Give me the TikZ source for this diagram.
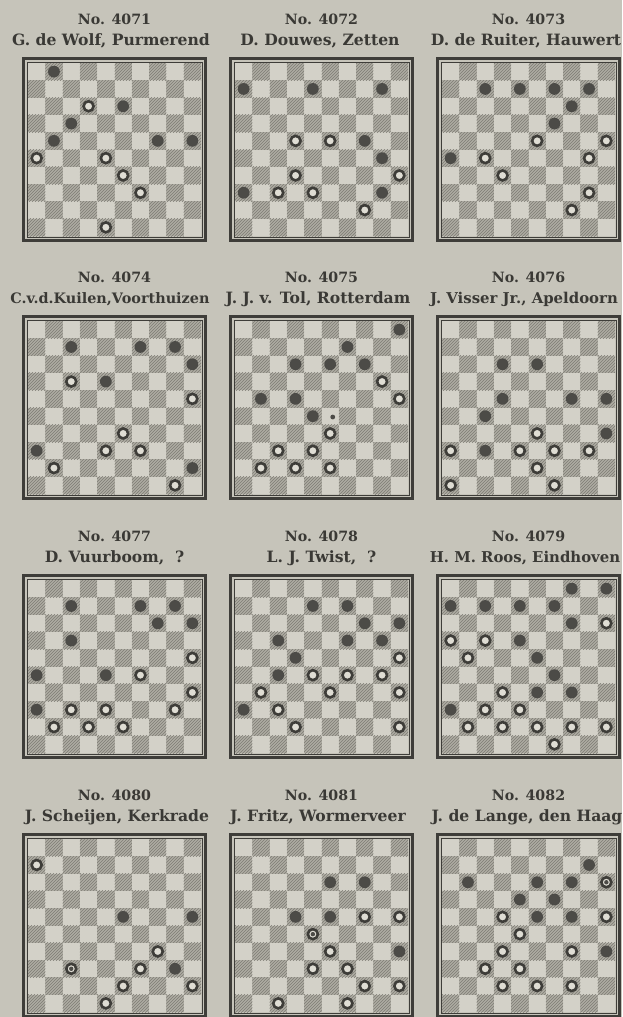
\documentclass[tikz,border=0pt]{standalone}
\usepackage{fontspec}
\setmainfont{DejaVu Serif}
\usetikzlibrary{patterns}
\definecolor{bg}{HTML}{C6C4BA}
\definecolor{lightsq}{HTML}{D3D1C8}
\definecolor{darksq}{HTML}{AEACA3}
\definecolor{hatch}{HTML}{7E7C74}
\definecolor{ink}{HTML}{3A3935}
\definecolor{blackc}{HTML}{4C4B47}
\definecolor{whitec}{HTML}{DFDDD4}
\definecolor{ringc}{HTML}{3E3D39}
\newcommand{\sqz}{17.3}
\tikzset{
  ttl/.style={font=\bfseries\fontsize{15.6}{16}\selectfont, text=ink, inner sep=0pt},
  ttlno/.style={font=\bfseries\fontsize{14.2}{15}\selectfont, text=ink, inner sep=0pt},
  ttlsmall/.style={font=\bfseries\fontsize{14.4}{15}\selectfont, text=ink, inner sep=0pt},
  ttledge/.style={font=\bfseries\fontsize{14.9}{15}\selectfont, text=ink, inner sep=0pt},
  bpiece/.style={fill=blackc},
  wpiece/.style={draw=ringc, fill=whitec, line width=2.6pt},
  frameout/.style={draw=ringc, line width=3.2pt},
  framein/.style={draw=ringc, line width=0.8pt}
}
\newcommand{\drawboard}[2]{%
  \fill[lightsq] (#1,#2) rectangle ++(173,173);
  \foreach \r in {1,...,10}{\foreach \k in {1,...,5}{%
    \pgfmathtruncatemacro{\cc}{2*\k-1+mod(\r,2)}%
    \fill[darksq] ({#1+(\cc-1)*\sqz},{#2+(\r-1)*\sqz}) rectangle ++(\sqz,\sqz);
    \fill[pattern=north east lines, pattern color=hatch] ({#1+(\cc-1)*\sqz},{#2+(\r-1)*\sqz}) rectangle ++(\sqz,\sqz);
  }}
  \draw[frameout] ({#1-4.5},{#2-4.5}) rectangle ++(182,182);
  \draw[framein] ({#1-1},{#2-1}) rectangle ++(175,175);
}
\newcommand{\putpieces}[4]{%
  \begin{scope}[shift={(#1,#2)}]
    \foreach \c/\r in {#3}{\fill[bpiece] ({(\c-0.5)*\sqz},{(\r-0.5)*\sqz}) circle (5.9);}
    \foreach \c/\r in {#4}{\draw[wpiece] ({(\c-0.5)*\sqz},{(\r-0.5)*\sqz}) circle (5.0);}
  \end{scope}}
\newcommand{\putking}[4]{%
  \begin{scope}[shift={(#1,#2)}]
    \draw[wpiece] ({(#3-0.5)*\sqz},{(#4-0.5)*\sqz}) circle (5.0);
    \fill[blackc] ({(#3-0.5)*\sqz},{(#4-0.5)*\sqz}) circle (2.2);
  \end{scope}}
\begin{document}
\begin{tikzpicture}[x=1pt,y=-1pt]
\useasboundingbox (0,0) rectangle (622,1017);
\fill[bg] (0,0) rectangle (622,1017);

% row 1
\drawboard{28}{63}
\drawboard{235}{63}
\drawboard{442}{63}
% row 2
\drawboard{28}{321}
\drawboard{235}{321}
\drawboard{442}{321}
% row 3
\drawboard{28}{580}
\drawboard{235}{580}
\drawboard{442}{580}
% row 4
\drawboard{28}{839}
\drawboard{235}{839}
\drawboard{442}{839}

% titles
\node[ttlno] (n1) at (114.5,19) {No. 4071};
\node[ttl] (a1) at (111,41) {G. de Wolf, Purmerend};
\node[ttlno] (n2) at (321.5,19) {No. 4072};
\node[ttl] (a2) at (320,41) {D. Douwes, Zetten};
\node[ttlno] (n3) at (528.5,19) {No. 4073};
\node[ttl] (a3) at (526,41) {D. de Ruiter, Hauwert};

\node[ttlno] (n4) at (114.5,277) {No. 4074};
\node[ttlsmall] (a4) at (110,299) {C.v.d.Kuilen,Voorthuizen};
\node[ttlno] (n5) at (321.5,277) {No. 4075};
\node[ttl] (a5) at (318,299) {J. J. v. Tol, Rotterdam};
\node[ttlno] (n6) at (528.5,277) {No. 4076};
\node[ttledge] (a6) at (524,299) {J. Visser Jr., Apeldoorn};

\node[ttlno] (n7) at (114.5,536) {No. 4077};
\node[ttl] (a7) at (114.5,558) {D. Vuurboom,\ \ ?};
\node[ttlno] (n8) at (321.5,536) {No. 4078};
\node[ttl] (a8) at (321.5,558) {L. J. Twist,\ \ ?};
\node[ttlno] (n9) at (528.5,536) {No. 4079};
\node[ttledge] (a9) at (525,558) {H. M. Roos, Eindhoven};

\node[ttlno] (n10) at (114.5,795) {No. 4080};
\node[ttl] (a10) at (117,817) {J. Scheijen, Kerkrade};
\node[ttlno] (n11) at (321.5,795) {No. 4081};
\node[ttl] (a11) at (318,817) {J. Fritz, Wormerveer};
\node[ttlno] (n12) at (528.5,795) {No. 4082};
\node[ttl] (a12) at (527,817) {J. de Lange, den Haag};

% pieces
\putpieces{28}{63}{2/1,6/3,3/4,2/5,8/5,10/5}{4/3,1/6,5/6,6/7,7/8,5/10}
\putpieces{235}{63}{1/2,5/2,9/2,8/5,9/6,1/8,9/8}{4/5,6/5,4/7,10/7,3/8,5/8,8/9}
\putpieces{442}{63}{3/2,5/2,7/2,9/2,8/3,7/4,1/6}{6/5,10/5,3/6,9/6,4/7,9/8,8/9}

\putpieces{28}{321}{3/2,7/2,9/2,10/3,5/4,1/8,10/9}{3/4,10/5,6/7,5/8,7/8,2/9,9/10}
\putpieces{235}{321}{10/1,7/2,4/3,6/3,8/3,2/5,4/5,5/6}{9/4,10/5,6/7,3/8,5/8,2/9,4/9,6/9}
\fill[blackc] ({235+5.65*\sqz},{321+5.55*\sqz}) circle (2.4);
\putpieces{442}{321}{4/3,6/3,4/5,8/5,10/5,3/6,10/7,3/8}{6/7,1/8,5/8,7/8,9/8,6/9,1/10,7/10}

\putpieces{28}{580}{3/2,7/2,9/2,8/3,10/3,3/4,1/6,5/6,1/8}{10/5,7/6,10/7,3/8,5/8,9/8,2/9,4/9,6/9}
\putpieces{235}{580}{5/2,7/2,8/3,10/3,3/4,7/4,9/4,4/5,3/6,1/8}{10/5,5/6,7/6,9/6,2/7,6/7,10/7,3/8,4/9,10/9}
\putpieces{442}{580}{8/1,10/1,1/2,3/2,5/2,7/2,8/3,5/4,6/5,7/6,6/7,8/7,1/8}{10/3,1/4,3/4,2/5,4/7,3/8,5/8,2/9,4/9,6/9,8/9,10/9,7/10}

\putpieces{28}{839}{6/5,10/5,9/8}{1/2,8/7,7/8,6/9,10/9,5/10}
\putking{28}{839}{3}{8}
\putpieces{235}{839}{6/3,8/3,4/5,6/5,10/7}{8/5,10/5,6/7,5/8,7/8,8/9,10/9,3/10,7/10}
\putking{235}{839}{5}{6}
\putpieces{442}{839}{9/2,2/3,6/3,8/3,5/4,7/4,6/5,8/5,10/7}{4/5,10/5,5/6,4/7,8/7,3/8,5/8,4/9,6/9,8/9}
\putking{442}{839}{10}{3}
\end{tikzpicture}
\end{document}
